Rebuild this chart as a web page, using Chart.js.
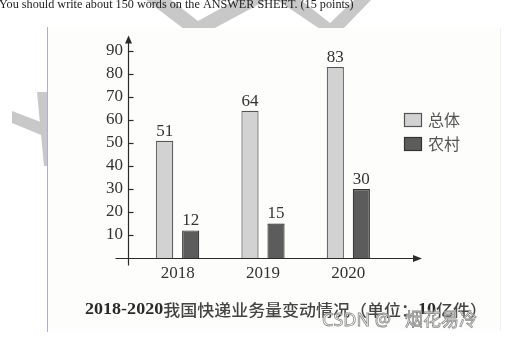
<!DOCTYPE html>
<html lang="zh">
<head>
<meta charset="UTF-8">
<meta name="viewport" content="width=device-width, initial-scale=1.0">
<script src="https://cdn.jsdelivr.net/npm/chart.js"></script>
<title>快递业务量</title>
<style>
  html, body { margin: 0; padding: 0; background: #fff; }
  .container { width: 523px; height: 338px; }
</style>
</head>
<body>
<div class="container">
  <canvas id="mychart" width="523" height="338"></canvas>
</div>

<script>
const years = ['2018', '2019', '2020'];
const totalVolume = [51, 64, 83];
const ruralVolume = [12, 15, 30];
const yTickValues = [10, 20, 30, 40, 50, 60, 70, 80, 90];
const seriesNames = ['总体', '农村'];
// caption split into runs: digits bold serif, Chinese regular
const titleRuns = [
    ['2018-2020', 'bold'],
    ['我国快递业务量变动情况（单位：', 'cjk'],
    ['10', 'bold'],
    ['亿件）', 'cjk']
];
const headerLine = 'You should write about 150 words on the ANSWER SHEET. (15 points)';

const serif = "'Liberation Serif', 'Times New Roman', serif";
const cjk = "'Noto Sans CJK SC', sans-serif";

// grey brush strokes lying around the figure
const brushStrokes = [
    [[146, 0], [171, 0], [198, 21], [236, 0], [267, 0], [213, 29], [184, 29]],
    [[277, 0], [301, 0], [330, 23], [354, 0], [371, 0], [343, 29], [320, 29]],
    [[37, 92], [47, 92], [47, 166], [44, 166]],
    [[12, 111], [46, 124], [46, 137], [12, 123]]
];

function poly(ctx, pts) {
    ctx.beginPath();
    pts.forEach(([x, y], i) => i ? ctx.lineTo(x, y) : ctx.moveTo(x, y));
    ctx.closePath();
    ctx.fill();
}

function seg(ctx, x1, y1, x2, y2) {
    ctx.beginPath();
    ctx.moveTo(x1, y1);
    ctx.lineTo(x2, y2);
    ctx.stroke();
}

function runFont(kind) {
    return kind === 'bold' ? 'bold 17px ' + serif : '500 16px ' + cjk;
}

const pagePlugin = {
    id: 'page',
    beforeDraw(chart) {
        const ctx = chart.ctx;
        ctx.save();
        ctx.fillStyle = '#ffffff';
        ctx.fillRect(0, 0, chart.width, chart.height);

        // figure sheet
        ctx.fillStyle = '#fdfdfb';
        ctx.fillRect(48, 28, 452, 303);
        ctx.strokeStyle = '#f0f0ee';
        ctx.lineWidth = 1;
        seg(ctx, 500.5, 28, 500.5, 331);
        ctx.strokeStyle = '#aeaed6';
        seg(ctx, 47.5, 27, 47.5, 332);

        // strokes only outside the sheet
        ctx.save();
        ctx.beginPath();
        ctx.rect(0, 0, chart.width, chart.height);
        ctx.rect(48, 28, 452, 303);
        ctx.clip('evenodd');
        ctx.fillStyle = '#c8c8c8';
        brushStrokes.forEach(p => poly(ctx, p));
        ctx.restore();

        ctx.fillStyle = '#222';
        ctx.font = '12.2px ' + serif;
        ctx.textBaseline = 'alphabetic';
        ctx.fillText(headerLine, -1, 7.5);
        ctx.restore();
    },
    afterDatasetsDraw(chart) {
        const ctx = chart.ctx;
        const area = chart.chartArea;
        const ys = chart.scales.y;
        const axisX = area.left - 6.5;
        const baseY = Math.round(ys.getPixelForValue(0)) + 0.5;
        ctx.save();

        // axes with arrow heads
        ctx.strokeStyle = '#2b2b2b';
        ctx.fillStyle = '#2b2b2b';
        ctx.lineWidth = 1.2;
        seg(ctx, axisX, baseY + 7, axisX, area.top + 2);
        poly(ctx, [[axisX, area.top - 4], [axisX - 3.5, area.top + 4], [axisX + 3.5, area.top + 4]]);
        seg(ctx, axisX - 13, baseY, area.right + 25, baseY);
        poly(ctx, [[area.right + 31, baseY], [area.right + 22, baseY - 3.5], [area.right + 22, baseY + 3.5]]);
        yTickValues.forEach(v => {
            const py = Math.round(ys.getPixelForValue(v)) + 0.5;
            seg(ctx, axisX, py, axisX + 5, py);
        });

        // values above the bars
        ctx.fillStyle = '#333';
        ctx.font = '17px ' + serif;
        ctx.textAlign = 'center';
        ctx.textBaseline = 'bottom';
        chart.data.datasets.forEach((ds, i) => {
            chart.getDatasetMeta(i).data.forEach((bar, j) => {
                ctx.fillText(String(ds.data[j]), bar.x, bar.y - 1);
            });
        });

        // legend
        ctx.textAlign = 'left';
        ctx.textBaseline = 'middle';
        ctx.font = '16px ' + cjk;
        chart.data.datasets.forEach((ds, i) => {
            const top = 113 + i * 24;
            ctx.fillStyle = ds.backgroundColor;
            ctx.fillRect(404, top, 18, 14);
            ctx.strokeStyle = ds.borderColor;
            ctx.lineWidth = 1.2;
            ctx.strokeRect(404.5, top + 0.5, 17, 13);
            ctx.fillStyle = '#555';
            ctx.fillText(ds.label, 428, top + 7);
        });

        // caption under the chart, stretched to span 85..487
        let total = 0;
        titleRuns.forEach(([t, k]) => { ctx.font = runFont(k); total += ctx.measureText(t).width; });
        const sx = 402 / total;
        ctx.translate(85, 310);
        ctx.scale(sx, 1);
        let cx = 0;
        titleRuns.forEach(([t, k]) => {
            ctx.font = runFont(k);
            ctx.fillStyle = k === 'bold' ? '#2a2a2a' : '#444';
            ctx.fillText(t, cx, 0);
            cx += ctx.measureText(t).width;
        });
        ctx.setTransform(1, 0, 0, 1, 0, 0);

        // site mark
        ctx.font = '18px "Noto Sans", ' + cjk;
        ctx.fillStyle = 'rgba(255,255,255,0.75)';
        ctx.strokeStyle = '#8a8a8a';
        ctx.lineWidth = 0.8;
        ctx.fillText('CSDN @', 322, 321);
        ctx.strokeText('CSDN @', 322, 321);
        ctx.fillText('烟花易冷', 405, 321);
        ctx.strokeText('烟花易冷', 405, 321);
        ctx.restore();
    }
};

const ctx = document.getElementById('mychart').getContext('2d');
const chart = new Chart(ctx, {
    type: 'bar',
    data: {
        labels: years,
        datasets: [
            {
                label: seriesNames[0],
                data: totalVolume,
                backgroundColor: '#d2d2d2',
                borderColor: '#555',
                borderWidth: 1.2
            },
            {
                label: seriesNames[1],
                data: ruralVolume,
                backgroundColor: '#5c5c5c',
                borderColor: '#333',
                borderWidth: 1.2
            }
        ]
    },
    options: {
        responsive: false,
        animation: false,
        devicePixelRatio: 1,
        categoryPercentage: 0.61,
        barPercentage: 0.66,
        layout: { padding: { left: 85, right: 132, top: 39.5, bottom: 0 } },
        plugins: {
            legend: { display: false },
            title: { display: false },
            tooltip: { enabled: false }
        },
        scales: {
            x: {
                grid: { display: false, drawTicks: false },
                border: { display: false },
                ticks: { color: '#333', font: { family: serif, size: 17 }, padding: 5 },
                afterFit: s => { s.height = 80; }
            },
            y: {
                min: 0,
                max: 95,
                grid: { display: false, drawTicks: false },
                border: { display: false },
                ticks: { color: '#333', font: { family: serif, size: 17 }, padding: 12 },
                afterBuildTicks: s => { s.ticks = yTickValues.map(v => ({ value: v })); },
                afterFit: s => { s.width = 50; }
            }
        }
    },
    plugins: [pagePlugin]
});
</script>
</body>
</html>
